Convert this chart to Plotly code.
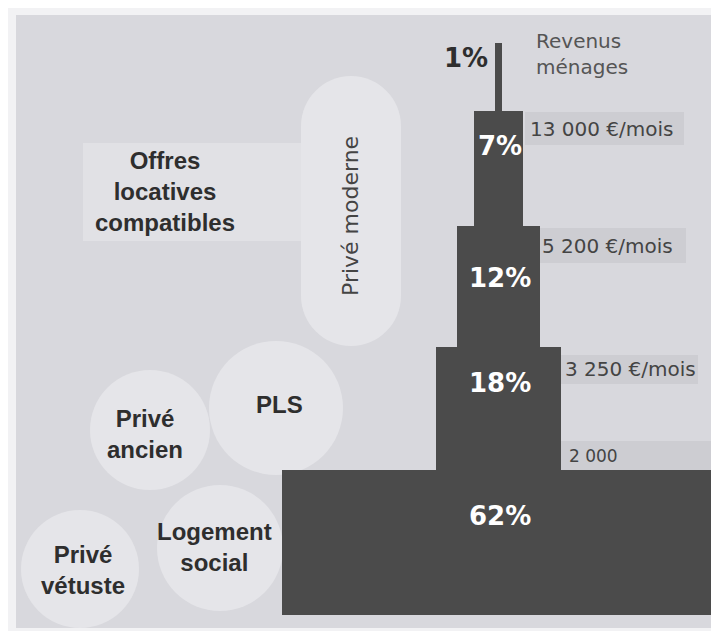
import plotly.graph_objects as go

# ---------------- data ----------------
shares = [62, 18, 12, 7, 1]                       # % of households per income tier (bottom -> top)
share_labels = ["62%", "18%", "12%", "7%", "1%"]
thresholds = ["2 000", "3 250 €/mois", "5 200 €/mois", "13 000 €/mois"]
top_label = "Revenus<br>ménages"
offer_labels = ["Privé<br>vétuste", "Logement<br>social", "Privé<br>ancien", "PLS"]
offer_vertical = "Privé moderne"
offers_title = "Offres<br>locatives<br>compatibles"

# ---------------- layout constants ----------------
W, H = 719, 631
PX_PER_UNIT = 6.98
CENTER_PX = 490.5
BOTTOM_PX = 607
tier_heights = [145, 123, 121, 115, 68]

tier_tops = []
_y = BOTTOM_PX
for h in tier_heights:
    _y -= h
    tier_tops.append(_y)

def px(x):
    return x / W

def py(y):
    return 1 - y / H

def dx(x):
    return (x - CENTER_PX) / PX_PER_UNIT

BAR = "#4b4b4b"
PANEL = "#d8d8dd"
LIGHT = "#e5e5e9"
BOX = "#cdcdd2"
TXT = "#2e2e2e"

fig = go.Figure()
fig.add_trace(go.Bar(
    x=[0] * len(shares), y=tier_heights, base=tier_tops, width=shares,
    marker=dict(color=BAR, line=dict(width=0)), hoverinfo="skip", showlegend=False,
))

shapes = []
# panel
shapes.append(dict(type="rect", xref="paper", yref="paper", x0=px(8), x1=px(712), y0=py(620), y1=py(7),
                   fillcolor=PANEL, line=dict(width=0), layer="below"))
# Offres rectangle
shapes.append(dict(type="rect", xref="paper", yref="paper", x0=px(75), x1=px(293), y0=py(233), y1=py(135),
                   fillcolor="#e1e1e5", line=dict(width=0), layer="below"))
# Privé moderne stadium shape (pixel coords converted to axis units)
L, R, T, B, r = 293, 393, 68, 338, 50
k = 0.55 * r
path = (f"M {dx(L)},{T + r} C {dx(L)},{T + r - k} {dx(L + r - k)},{T} {dx(L + r)},{T} "
        f"C {dx(R - r + k)},{T} {dx(R)},{T + r - k} {dx(R)},{T + r} "
        f"L {dx(R)},{B - r} C {dx(R)},{B - r + k} {dx(R - r + k)},{B} {dx(R - r)},{B} "
        f"C {dx(L + r - k)},{B} {dx(L)},{B - r + k} {dx(L)},{B - r} Z")
shapes.append(dict(type="path", xref="x", yref="y", path=path, fillcolor=LIGHT, line=dict(width=0), layer="below"))
# circles: (cx, cy, r)
for cx, cy, rr in [(268, 400, 67), (142, 422, 60), (212, 540, 63), (72, 561, 59)]:
    shapes.append(dict(type="circle", xref="paper", yref="paper", x0=px(cx - rr), x1=px(cx + rr),
                       y0=py(cy + rr), y1=py(cy - rr), fillcolor=LIGHT, line=dict(width=0), layer="below"))
# threshold boxes (x0, x1, y0, y1) in pixels
threshold_boxes = [(553, 706, 433, 462), (553, 690, 347, 376), (528, 678, 220, 255), (517, 676, 104, 137)]
for x0, x1, y0, y1 in threshold_boxes:
    shapes.append(dict(type="rect", xref="paper", yref="paper", x0=px(x0), x1=px(x1), y0=py(y1), y1=py(y0),
                       fillcolor=BOX, line=dict(width=0), layer="below"))

ann = []
# percent labels
pct_offsets = [46, 36, 52, 35, 15]
for i, (lab, top, off) in enumerate(zip(share_labels, tier_tops, pct_offsets)):
    last = i == len(shares) - 1
    ann.append(dict(x=(dx(458) if last else dx(492)), y=top + off, xref="x", yref="y",
                    text="<b>" + lab + "</b>", showarrow=False, xanchor="center", yanchor="middle",
                    font=dict(family="DejaVu Sans", size=26, color=(TXT if last else "white"))))
# threshold labels
thr_pos = [(559, 448, 17), (555, 361, 20), (532, 238, 20), (520, 121, 20)]
for lab, (x, yy, fs) in zip(thresholds, thr_pos):
    ann.append(dict(x=px(x), y=py(yy), xref="paper", yref="paper", text=lab, showarrow=False,
                    xanchor="left", yanchor="middle",
                    font=dict(family="DejaVu Sans", size=fs, color="#444444")))
ann.append(dict(x=px(526), y=py(46), xref="paper", yref="paper", text=top_label, showarrow=False,
                xanchor="left", yanchor="middle", align="left",
                font=dict(family="DejaVu Sans", size=20, color="#555555")))
# offers
ann.append(dict(x=px(157), y=py(184), xref="paper", yref="paper", text="<b>" + offers_title + "</b>",
                showarrow=False, xanchor="center", yanchor="middle", align="center",
                font=dict(family="Liberation Sans", size=24, color=TXT)))
ann.append(dict(x=px(343), y=py(208), xref="paper", yref="paper", text=offer_vertical, textangle=-90,
                showarrow=False, xanchor="center", yanchor="middle",
                font=dict(family="DejaVu Sans", size=22, color="#444444")))
offer_pos = [(75, 562), (207, 539), (137, 426), (271, 396)]
for lab, (x, yy) in zip(offer_labels, offer_pos):
    ann.append(dict(x=px(x), y=py(yy), xref="paper", yref="paper", text="<b>" + lab + "</b>",
                    showarrow=False, xanchor="center", yanchor="middle", align="center",
                    font=dict(family="Liberation Sans", size=24, color=TXT)))

fig.update_layout(
    width=W, height=H, margin=dict(l=0, r=0, t=0, b=0),
    paper_bgcolor="#f2f2f4", plot_bgcolor="rgba(0,0,0,0)",
    barmode="overlay", bargap=0,
    xaxis=dict(range=[-CENTER_PX / PX_PER_UNIT, (W - CENTER_PX) / PX_PER_UNIT], visible=False, fixedrange=True),
    yaxis=dict(range=[H, 0], visible=False, fixedrange=True),
    shapes=shapes, annotations=ann,
)

fig.write_html("out.html")
